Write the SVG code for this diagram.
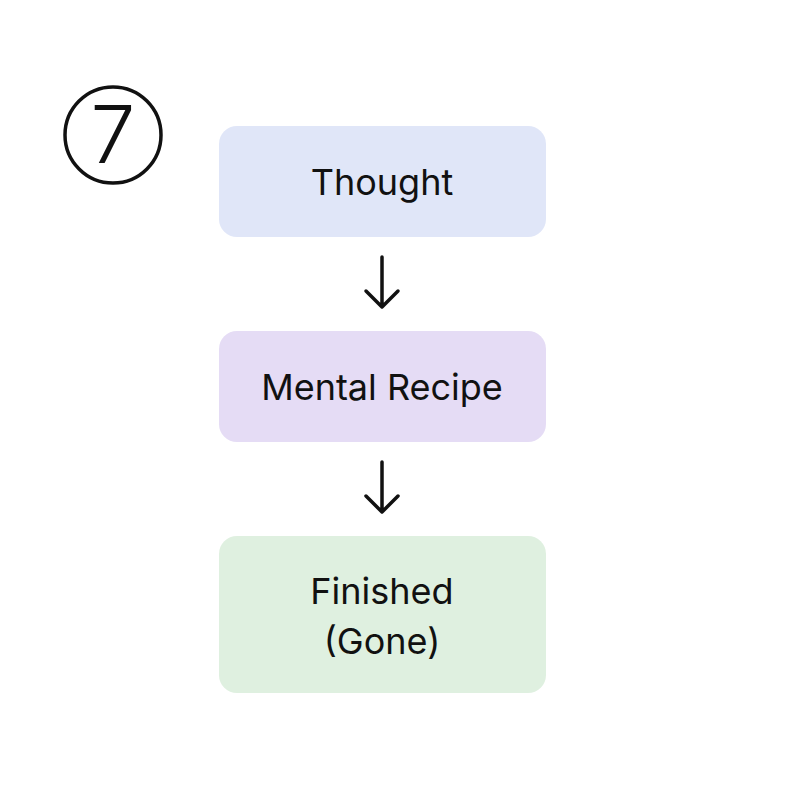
<svg xmlns="http://www.w3.org/2000/svg" width="800" height="800" viewBox="0 0 800 800">
<style>
.t{font-family:Inter,"Noto Sans",sans-serif;font-size:36px;fill:#111;text-anchor:middle}
.c{stroke:#111;stroke-width:3.5;fill:none;stroke-linecap:round;stroke-linejoin:round}
</style>
<rect width="800" height="800" fill="#fff"/>
<g id="badge"><circle cx="113" cy="135" r="48" fill="none" stroke="#111" stroke-width="3.5"/><text x="113" y="163" class="t" style="font-size:80px;font-weight:300">7</text></g>
<g id="n1"><rect x="219" y="126" width="327" height="111" rx="18" fill="#e0e6f8"/><text x="382" y="195" class="t">Thought</text></g>
<g id="n2"><rect x="219" y="331" width="327" height="111" rx="18" fill="#e5dcf5"/><text x="382" y="400" class="t">Mental Recipe</text></g>
<g id="n3"><rect x="219" y="536" width="327" height="157" rx="18" fill="#dff0e0"/><text x="382" y="604" class="t">Finished</text><text x="382" y="654" class="t">(Gone)</text></g>
<g id="connectors">
<path class="c" d="M382 257V306M366 291L382 307L398 291"/>
<path class="c" d="M382 462V511M366 496L382 512L398 496"/>
</g>
</svg>
